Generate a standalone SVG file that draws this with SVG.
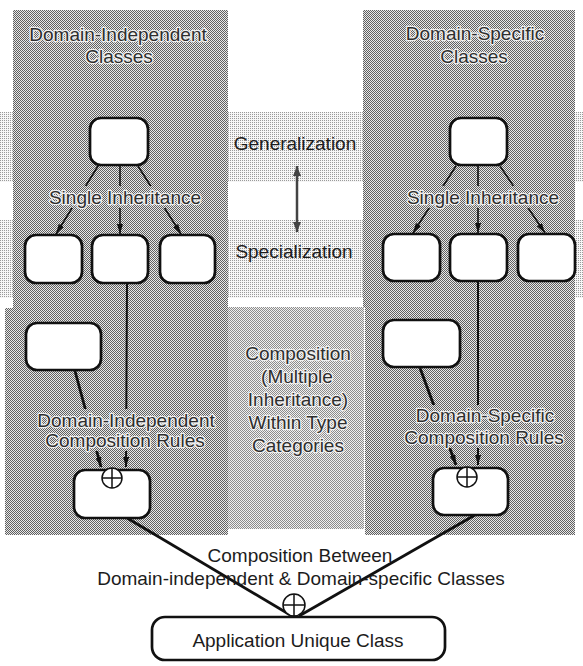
<svg xmlns="http://www.w3.org/2000/svg" width="583" height="666" viewBox="0 0 583 666">
  <defs>
    <!-- halftone fills -->
    <pattern id="dk" width="2" height="2" patternUnits="userSpaceOnUse">
      <rect width="2" height="2" fill="#e8e8e8"/>
      <rect width="1" height="1" fill="#606060"/>
      <rect x="1" y="1" width="1" height="1" fill="#606060"/>
    </pattern>
    <pattern id="md" width="2" height="2" patternUnits="userSpaceOnUse">
      <rect width="2" height="2" fill="#f0f0f0"/>
      <rect width="1" height="1" fill="#8c8c8c"/>
      <rect x="1" y="1" width="1" height="1" fill="#8c8c8c"/>
    </pattern>
    <pattern id="lt" width="2" height="2" patternUnits="userSpaceOnUse">
      <rect width="2" height="2" fill="#f6f6f6"/>
      <rect width="1" height="1" fill="#9a9a9a"/>
    </pattern>
    <marker id="ah" viewBox="0 0 10 6" refX="10" refY="3" markerWidth="10" markerHeight="6" markerUnits="userSpaceOnUse" orient="auto-start-reverse">
      <path d="M0,0 L10,3 L0,6 z" fill="#111"/>
    </marker>
    <marker id="ah2" viewBox="0 0 10 8" refX="10" refY="4" markerWidth="10" markerHeight="8" markerUnits="userSpaceOnUse" orient="auto-start-reverse">
      <path d="M0,0 L10,4 L0,8 z" fill="#444"/>
    </marker>
  </defs>
  <style>
    .box { fill: #fff; stroke: #111; stroke-width: 2.7; }
    .ln { fill: none; stroke: #111; }
    .thin { stroke-width: 1.6; }
    .mid { stroke-width: 2; }
    .thick { stroke-width: 2.8; }
    .ox { fill: #fff; stroke: #111; stroke-width: 1.5; }
    .oxl { stroke: #111; stroke-width: 1.5; }
    text { font-family: "Liberation Sans", Arial, sans-serif; font-size: 19px; text-anchor: middle; }
    .pt { fill: #2e2e2e; stroke: #f0f0f0; stroke-width: 2.5; paint-order: stroke; stroke-linejoin: round; }
    .ct { fill: #1c1c1c; }
  </style>

  <rect width="583" height="666" fill="#fff"/>

  <!-- background bands -->
  <g id="backgrounds">
    <rect x="0" y="112" width="583" height="70" fill="url(#lt)"/>
    <rect x="0" y="220" width="583" height="78" fill="url(#lt)"/>
    <rect x="228" y="307" width="136" height="222" fill="url(#md)"/>
    <path d="M13,10 H228 V535 H5 V308 H13 Z" fill="url(#dk)"/>
    <path d="M363,10 H575 V535 H365 V307 H363 Z" fill="url(#dk)"/>
  </g>

  <!-- connectors -->
  <g id="connectors">
    <!-- domain-independent inheritance -->
    <line class="ln thin" x1="98" y1="166" x2="56" y2="234" marker-end="url(#ah)"/>
    <line class="ln thin" x1="120" y1="166" x2="120" y2="234" marker-end="url(#ah)"/>
    <line class="ln thin" x1="138" y1="166" x2="181" y2="234" marker-end="url(#ah)"/>
    <!-- domain-specific inheritance -->
    <line class="ln thin" x1="456" y1="166" x2="413" y2="233" marker-end="url(#ah)"/>
    <line class="ln thin" x1="478" y1="166" x2="478" y2="233" marker-end="url(#ah)"/>
    <line class="ln thin" x1="500" y1="166" x2="545" y2="233" marker-end="url(#ah)"/>
    <!-- composition within categories -->
    <line class="ln mid" x1="127" y1="284" x2="126" y2="467" marker-end="url(#ah)"/>
    <line class="ln thick" x1="75" y1="371" x2="101" y2="467" marker-end="url(#ah)"/>
    <line class="ln mid" x1="478" y1="282" x2="478" y2="465" marker-end="url(#ah)"/>
    <line class="ln thick" x1="420" y1="368" x2="456" y2="465" marker-end="url(#ah)"/>
    <!-- composition between categories -->
    <line class="ln thick" x1="127" y1="518" x2="292" y2="616"/>
    <line class="ln thick" x1="475" y1="515" x2="299" y2="616"/>
    <!-- generalization / specialization -->
    <line x1="297" y1="166" x2="297" y2="232" stroke="#444" stroke-width="2.5" marker-start="url(#ah2)" marker-end="url(#ah2)"/>
  </g>

  <!-- label grounds that interrupt the lines -->
  <g id="label-grounds" fill="url(#dk)">
    <rect x="46" y="186" width="160" height="22"/>
    <rect x="404" y="186" width="160" height="22"/>
    <rect x="36" y="409" width="182" height="42"/>
    <rect x="402" y="405" width="166" height="43"/>
  </g>

  <!-- domain-independent classes -->
  <g id="di-parent"><rect class="box" x="90" y="118" width="58" height="47" rx="11"/></g>
  <g id="di-child-1"><rect class="box" x="25" y="235" width="57" height="48" rx="11"/></g>
  <g id="di-child-2"><rect class="box" x="92" y="235" width="56" height="48" rx="11"/></g>
  <g id="di-child-3"><rect class="box" x="160" y="235" width="55" height="48" rx="11"/></g>
  <g id="di-extra"><rect class="box" x="26" y="323" width="75" height="47" rx="11"/></g>
  <g id="di-composite">
    <rect class="box" x="74" y="470" width="76" height="48" rx="11"/>
    <circle class="ox" cx="112" cy="478" r="10"/>
    <line class="oxl" x1="102" y1="478" x2="122" y2="478"/>
    <line class="oxl" x1="112" y1="468" x2="112" y2="488"/>
  </g>

  <!-- domain-specific classes -->
  <g id="ds-parent"><rect class="box" x="450" y="118" width="57" height="47" rx="11"/></g>
  <g id="ds-child-1"><rect class="box" x="383" y="234" width="57" height="47" rx="11"/></g>
  <g id="ds-child-2"><rect class="box" x="450" y="234" width="57" height="47" rx="11"/></g>
  <g id="ds-child-3"><rect class="box" x="518" y="234" width="57" height="47" rx="11"/></g>
  <g id="ds-extra"><rect class="box" x="383" y="320" width="77" height="47" rx="11"/></g>
  <g id="ds-composite">
    <rect class="box" x="433" y="468" width="75" height="47" rx="11"/>
    <circle class="ox" cx="467" cy="477" r="10"/>
    <line class="oxl" x1="457" y1="477" x2="477" y2="477"/>
    <line class="oxl" x1="467" y1="467" x2="467" y2="487"/>
  </g>

  <!-- application class -->
  <g id="app-join">
    <circle class="ox" cx="294" cy="605" r="11"/>
    <line class="oxl" x1="283" y1="605" x2="305" y2="605"/>
    <line class="oxl" x1="294" y1="594" x2="294" y2="616"/>
  </g>
  <g id="app-class">
    <rect class="box" x="152" y="617" width="293" height="43" rx="13"/>
    <text class="ct" x="298" y="647">Application Unique Class</text>
  </g>

  <!-- labels -->
  <g id="labels">
    <text class="pt" x="118" y="41">Domain-Independent</text>
    <text class="pt" x="119" y="63">Classes</text>
    <text class="pt" x="475" y="40">Domain-Specific</text>
    <text class="pt" x="474" y="63">Classes</text>
    <text class="pt" x="125" y="204">Single Inheritance</text>
    <text class="pt" x="483" y="204">Single Inheritance</text>
    <text class="pt" x="126" y="427">Domain-Independent</text>
    <text class="pt" x="125" y="447">Composition Rules</text>
    <text class="pt" x="485" y="422">Domain-Specific</text>
    <text class="pt" x="484" y="444">Composition Rules</text>

    <text class="ct" x="295" y="150">Generalization</text>
    <text class="ct" x="294" y="258">Specialization</text>

    <text class="pt" x="298" y="360">Composition</text>
    <text class="pt" x="297" y="383">(Multiple</text>
    <text class="pt" x="298" y="406">Inheritance)</text>
    <text class="pt" x="298" y="429">Within Type</text>
    <text class="pt" x="298" y="452">Categories</text>

    <text class="ct" x="300" y="562">Composition Between</text>
    <text class="ct" x="301" y="585">Domain-independent &amp; Domain-specific Classes</text>
  </g>
</svg>
